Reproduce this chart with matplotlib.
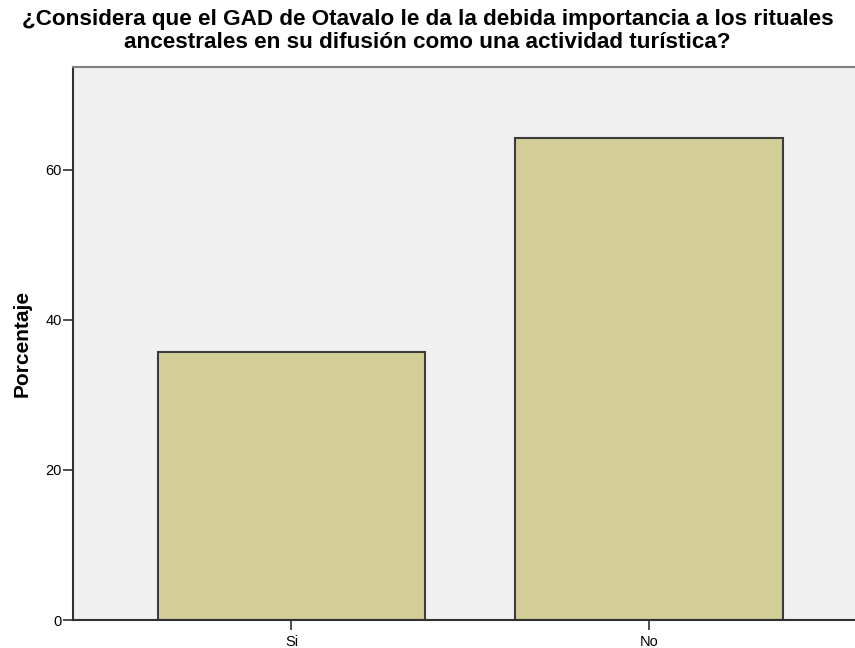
import matplotlib.pyplot as plt

categorias = ['Si', 'No']
porcentajes = [35.7, 64.3]
ticks_y = [0, 20, 40, 60]

plt.rcParams['font.family'] = ['Liberation Sans', 'DejaVu Sans']

fig = plt.figure(figsize=(8.55, 6.48), dpi=100)
ax = fig.add_axes([73 / 855, 1 - 620 / 648, 1 - 73 / 855, (620 - 67) / 648])
ax.set_facecolor('#f0f0f0')

pos = range(len(categorias))
ax.bar(pos, porcentajes, width=0.747, color='#d3ce97', edgecolor='#3c3c3c', linewidth=1.5, zorder=2)

ax.set_xlim(-0.611, 1.576)
ax.set_ylim(0, 73.7)
ax.set_xticks(list(pos))
ax.set_xticklabels(categorias, fontsize=10.5)
ax.set_yticks(ticks_y)
ax.set_yticklabels([str(t) for t in ticks_y], fontsize=10.5)
ax.tick_params(length=7, width=1.2, color='#303030')
ax.tick_params(axis='x', pad=4)
ax.tick_params(axis='y', pad=1)

ax.spines['right'].set_visible(False)
ax.spines['top'].set_color('#808080')
ax.spines['top'].set_linewidth(1.5)
for s in ['left', 'bottom']:
    ax.spines[s].set_color('#303030')
    ax.spines[s].set_linewidth(1.5)

ax.set_ylabel('Porcentaje', fontsize=15, fontweight='bold', labelpad=10)

fig.text(0.5, 1 - 31 / 648,
         '¿Considera que el GAD de Otavalo le da la debida importancia a los rituales\n'
         'ancestrales en su difusión como una actividad turística?',
         ha='center', va='center', fontsize=16.2, fontweight='bold', linespacing=1.1)

fig.savefig('out.png', dpi=100)
